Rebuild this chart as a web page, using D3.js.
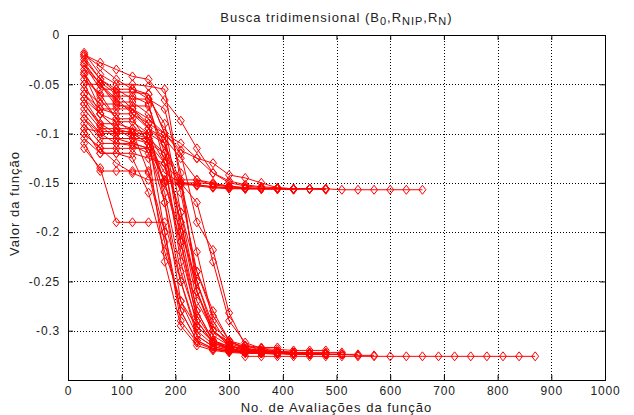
<!DOCTYPE html>
<html>
<head>
<meta charset="utf-8">
<script src="https://cdn.jsdelivr.net/npm/d3@7"></script>
<style>
  body { margin: 0; background: #fff; }
  text { font-family: "Liberation Sans", Arial, sans-serif; font-size: 13px; fill: #222; letter-spacing: 1px; }
</style>
</head>
<body>
<svg id="chart" width="634" height="415"></svg>
<script>
// function evaluations between successive points of a run
const evalStep = 30;

// runs that stop on the upper plateau (about -0.156)
const upperRuns = [
    [-0.020, -0.028, -0.035, -0.042, -0.045, -0.066, -0.087, -0.115, -0.140, -0.148, -0.152, -0.154, -0.155, -0.156, -0.156, -0.156, -0.157, -0.157, -0.157, -0.157, -0.157, -0.157],
    [-0.025, -0.045, -0.055, -0.055, -0.060, -0.100, -0.117, -0.125, -0.140, -0.150, -0.153, -0.155, -0.156, -0.156, -0.156, -0.156],
    [-0.040, -0.075, -0.075, -0.075, -0.095, -0.105, -0.125, -0.147, -0.152, -0.154, -0.155, -0.156, -0.156, -0.156, -0.156],
    [-0.050, -0.080, -0.095, -0.095, -0.100, -0.130, -0.150, -0.153, -0.155, -0.156, -0.156, -0.156, -0.156, -0.157],
    [-0.065, -0.090, -0.100, -0.100, -0.110, -0.140, -0.150, -0.152, -0.154, -0.155, -0.156, -0.156, -0.156, -0.156, -0.156],
    [-0.070, -0.092, -0.105, -0.105, -0.105, -0.150, -0.152, -0.152, -0.154, -0.155, -0.156, -0.156, -0.156],
    [-0.085, -0.100, -0.110, -0.110, -0.115, -0.148, -0.150, -0.150, -0.151, -0.153, -0.155, -0.156, -0.156, -0.156, -0.156, -0.157],
    [-0.030, -0.050, -0.065, -0.080, -0.090, -0.100, -0.110, -0.125, -0.130, -0.142, -0.145, -0.150, -0.155, -0.156, -0.156, -0.156],
    [-0.100, -0.115, -0.130, -0.140, -0.147, -0.147, -0.147, -0.147, -0.150, -0.154, -0.155, -0.156, -0.156, -0.156]
];

// runs that stop on the lower plateau (about -0.323)
const lowerRuns = [
    [-0.018, -0.040, -0.050, -0.050, -0.052, -0.055, -0.150, -0.250, -0.300, -0.315, -0.320, -0.322, -0.323, -0.323, -0.324, -0.324],
    [-0.022, -0.045, -0.058, -0.058, -0.060, -0.100, -0.200, -0.280, -0.310, -0.318, -0.321, -0.322, -0.322, -0.323],
    [-0.030, -0.055, -0.055, -0.065, -0.065, -0.090, -0.180, -0.260, -0.305, -0.315, -0.320, -0.322, -0.323, -0.323, -0.323, -0.324, -0.324],
    [-0.040, -0.062, -0.062, -0.062, -0.070, -0.130, -0.230, -0.295, -0.312, -0.318, -0.321, -0.322, -0.322, -0.323, -0.323],
    [-0.050, -0.050, -0.068, -0.068, -0.080, -0.110, -0.210, -0.290, -0.312, -0.319, -0.321, -0.322, -0.323, -0.323],
    [-0.055, -0.070, -0.070, -0.075, -0.090, -0.170, -0.270, -0.305, -0.316, -0.320, -0.322, -0.323, -0.323, -0.324, -0.324, -0.324, -0.324, -0.325, -0.325],
    [-0.060, -0.075, -0.080, -0.080, -0.095, -0.110, -0.160, -0.240, -0.285, -0.310, -0.318, -0.321, -0.322, -0.323],
    [-0.065, -0.080, -0.088, -0.088, -0.100, -0.150, -0.210, -0.280, -0.310, -0.318, -0.321, -0.322, -0.323, -0.323, -0.323, -0.324],
    [-0.070, -0.090, -0.090, -0.095, -0.105, -0.200, -0.290, -0.312, -0.319, -0.321, -0.322, -0.323, -0.323, -0.324, -0.324],
    [-0.075, -0.095, -0.095, -0.100, -0.110, -0.130, -0.220, -0.285, -0.310, -0.316, -0.320, -0.322, -0.323, -0.323, -0.323, -0.324, -0.324, -0.324],
    [-0.080, -0.100, -0.100, -0.100, -0.105, -0.120, -0.190, -0.260, -0.300, -0.315, -0.319, -0.321, -0.322, -0.322, -0.323],
    [-0.085, -0.105, -0.105, -0.110, -0.115, -0.170, -0.250, -0.305, -0.316, -0.320, -0.322, -0.323, -0.323, -0.323, -0.324],
    [-0.090, -0.110, -0.110, -0.112, -0.120, -0.230, -0.295, -0.315, -0.320, -0.322, -0.323, -0.323, -0.324],
    [-0.095, -0.098, -0.098, -0.098, -0.140, -0.210, -0.280, -0.310, -0.318, -0.321, -0.322, -0.323, -0.323, -0.323, -0.324, -0.324],
    [-0.100, -0.115, -0.115, -0.115, -0.115, -0.160, -0.240, -0.290, -0.312, -0.318, -0.321, -0.322, -0.323, -0.323, -0.323, -0.324, -0.324],
    [-0.105, -0.120, -0.120, -0.120, -0.125, -0.130, -0.180, -0.240, -0.280, -0.310, -0.319, -0.321, -0.322, -0.323, -0.323],
    [-0.110, -0.138, -0.138, -0.138, -0.138, -0.200, -0.280, -0.310, -0.318, -0.321, -0.322, -0.323, -0.323, -0.324, -0.324],
    [-0.115, -0.135, -0.190, -0.190, -0.190, -0.190, -0.250, -0.300, -0.314, -0.319, -0.321, -0.322, -0.323, -0.323, -0.324],
    [-0.035, -0.048, -0.060, -0.075, -0.085, -0.100, -0.120, -0.190, -0.218, -0.282, -0.315, -0.320, -0.322, -0.323, -0.323, -0.324, -0.324],
    [-0.045, -0.060, -0.085, -0.100, -0.100, -0.110, -0.150, -0.170, -0.230, -0.290, -0.312, -0.318, -0.321, -0.322, -0.323, -0.323],
    [-0.060, -0.080, -0.095, -0.105, -0.110, -0.120, -0.150, -0.220, -0.290, -0.315, -0.326, -0.326, -0.326, -0.326, -0.326, -0.326, -0.326, -0.326, -0.326, -0.326, -0.326, -0.326, -0.326, -0.326, -0.326, -0.326, -0.326, -0.326, -0.326],
    [-0.020, -0.032, -0.045, -0.055, -0.065, -0.075, -0.140, -0.260, -0.300, -0.313, -0.318, -0.320, -0.321, -0.322],
    [-0.028, -0.050, -0.072, -0.072, -0.072, -0.120, -0.190, -0.270, -0.300, -0.312, -0.316, -0.318, -0.319, -0.320, -0.320, -0.320],
    [-0.038, -0.065, -0.085, -0.085, -0.110, -0.150, -0.200, -0.250, -0.295, -0.310, -0.315, -0.317, -0.317],
    [-0.095, -0.120, -0.120, -0.125, -0.160, -0.220, -0.270, -0.296, -0.310, -0.316, -0.318, -0.320, -0.321, -0.322, -0.322, -0.322, -0.322]
];

const xTicks = [0, 100, 200, 300, 400, 500, 600, 700, 800, 900, 1000];
const yTicks = [0, -0.05, -0.1, -0.15, -0.2, -0.25, -0.3];

const width = 634, height = 415;
const margin = { top: 35, right: 29, bottom: 35, left: 68 };

const svg = d3.select('#chart');

const x = d3.scaleLinear().domain([0, 1000]).range([margin.left, width - margin.right]);
const y = d3.scaleLinear().domain([-0.35, 0]).range([height - margin.bottom, margin.top]);

const x0 = x.range()[0], x1 = x.range()[1];
const y0 = y.range()[0], y1 = y.range()[1];

// dotted grid
const grid = svg.append('g').attr('stroke', '#000').attr('stroke-width', 1)
    .attr('stroke-dasharray', '1,2').attr('shape-rendering', 'crispEdges');
grid.selectAll('line.gx')
    .data(xTicks.filter(t => t > 0 && t < 1000))
    .join('line')
    .attr('x1', d => Math.round(x(d)) + 0.5).attr('x2', d => Math.round(x(d)) + 0.5)
    .attr('y1', y1).attr('y2', y0);
grid.selectAll('line.gy')
    .data(yTicks.filter(t => t < 0))
    .join('line')
    .attr('y1', d => Math.round(y(d)) + 0.5).attr('y2', d => Math.round(y(d)) + 0.5)
    .attr('x1', x0).attr('x2', x1);

// runs
const allRuns = upperRuns.concat(lowerRuns).map(run =>
    run.map((v, i) => ({ x: (i + 1) * evalStep, y: v })));

const line = d3.line().x(d => x(d.x)).y(d => y(d.y));
const diamond = 'M0,-4.5L3.5,0L0,4.5L-3.5,0Z';

const runs = svg.append('g');
runs.selectAll('path.run')
    .data(allRuns)
    .join('path')
    .attr('class', 'run')
    .attr('d', line)
    .attr('fill', 'none')
    .attr('stroke', '#ff0000')
    .attr('stroke-width', 1);

runs.selectAll('g.marks')
    .data(allRuns)
    .join('g')
    .attr('class', 'marks')
    .selectAll('path')
    .data(d => d)
    .join('path')
    .attr('d', diamond)
    .attr('transform', d => `translate(${x(d.x)},${y(d.y)})`)
    .attr('fill', 'none')
    .attr('stroke', '#ff0000')
    .attr('stroke-width', 1);

// axes box with inward ticks on all sides
const tickLen = 5;
const axisG = svg.append('g');
axisG.append('g')
    .attr('transform', `translate(0,${y0})`)
    .call(d3.axisBottom(x).tickValues(xTicks).tickSize(-tickLen).tickPadding(6).tickFormat(d3.format('d')));
axisG.append('g')
    .attr('transform', `translate(0,${y1})`)
    .call(d3.axisTop(x).tickValues(xTicks).tickSize(-tickLen).tickFormat(''));
axisG.append('g')
    .attr('transform', `translate(${x0},0)`)
    .call(d3.axisLeft(y).tickValues(yTicks).tickSize(-tickLen).tickPadding(8).tickFormat(d => d === 0 ? '0' : String(d)));
axisG.append('g')
    .attr('transform', `translate(${x1},0)`)
    .call(d3.axisRight(y).tickValues(yTicks).tickSize(-tickLen).tickFormat(''));

axisG.selectAll('.domain').attr('stroke', '#000');
axisG.selectAll('.tick line').attr('stroke', '#000');
axisG.selectAll('.tick text')
    .style('font-family', '"Liberation Sans", Arial, sans-serif')
    .style('font-size', '12px')
    .style('letter-spacing', '0.8px')
    .attr('fill', '#222');
svg.append('rect')
    .attr('x', x0).attr('y', y1)
    .attr('width', x1 - x0).attr('height', y0 - y1)
    .attr('fill', 'none').attr('stroke', '#000').attr('shape-rendering', 'crispEdges');

// title with subscripts
const title = svg.append('text')
    .attr('x', (x0 + x1) / 2).attr('y', 22)
    .attr('text-anchor', 'middle');
const parts = [
    ['Busca tridimensional (B', false], ['0', true], [',R', false],
    ['NIP', true], [',R', false], ['N', true], [')', false]
];
parts.forEach(([t, sub]) => {
    title.append('tspan')
        .attr('baseline-shift', sub ? '-3' : null)
        .style('font-size', sub ? '11px' : '13px')
        .text(t);
});

svg.append('text')
    .attr('x', (x0 + x1) / 2).attr('y', 412)
    .attr('text-anchor', 'middle')
    .text('No. de Avaliações da função');

svg.append('text')
    .attr('transform', `translate(19,${(y0 + y1) / 2 - 4}) rotate(-90)`)
    .attr('text-anchor', 'middle')
    .text('Valor da função');
</script>
</body>
</html>
